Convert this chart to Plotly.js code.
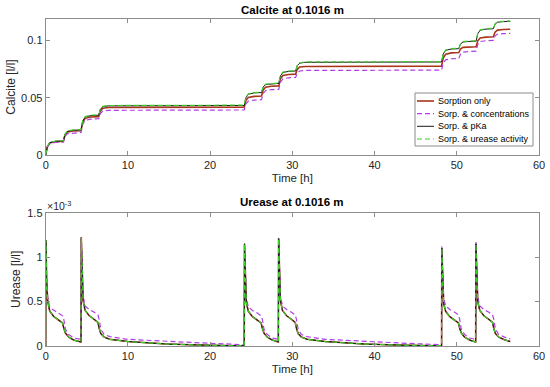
<!DOCTYPE html>
<html>
<head>
<meta charset="utf-8">
<script src="https://cdn.plot.ly/plotly-3.0.1.min.js"></script>
<style>html,body{margin:0;padding:0;background:#fff;}#chart{width:550px;height:387px;}</style>
</head>
<body>
<div id="chart"></div>
<script>
// ---------- Calcite data ----------
const timeCa = [
  0, 0.2, 0.5, 1.2,
  2.15, 2.35, 2.65, 3.35,
  4.3, 4.5, 4.8, 5.5,
  6.45, 6.65, 6.95, 7.65,
  24.15, 24.35, 24.65, 25.35,
  26.25, 26.45, 26.75, 27.45,
  28.35, 28.55, 28.85, 29.55,
  30.4, 30.6, 30.9, 31.6,
  48.15, 48.35, 48.65, 49.35,
  50.25, 50.45, 50.75, 51.45,
  52.35, 52.55, 52.85, 53.55,
  54.45, 54.65, 54.95, 55.65,
  56.5
];
const calciteSorption = [
  0, 0.0072, 0.0106, 0.0117,
  0.0120, 0.0175, 0.0201, 0.0209,
  0.0212, 0.0286, 0.0320, 0.0332,
  0.0335, 0.0385, 0.0408, 0.0415,
  0.0418, 0.0476, 0.0503, 0.0512,
  0.0515, 0.0568, 0.0592, 0.0600,
  0.0603, 0.0665, 0.0694, 0.0703,
  0.0706, 0.0748, 0.0768, 0.0773,
  0.0776, 0.0847, 0.0880, 0.0891,
  0.0894, 0.0925, 0.0939, 0.0942,
  0.0945, 0.0997, 0.1022, 0.1029,
  0.1032, 0.1072, 0.1090, 0.1095,
  0.1098
];
const calciteConc = [
  0, 0.0067, 0.0099, 0.0109,
  0.0112, 0.0162, 0.0186, 0.0193,
  0.0196, 0.0268, 0.0302, 0.0313,
  0.0316, 0.0362, 0.0384, 0.0390,
  0.0393, 0.0446, 0.0471, 0.0479,
  0.0482, 0.0537, 0.0562, 0.0570,
  0.0573, 0.0635, 0.0665, 0.0674,
  0.0677, 0.0715, 0.0733, 0.0738,
  0.0741, 0.0802, 0.0831, 0.0840,
  0.0843, 0.0881, 0.0898, 0.0903,
  0.0906, 0.0963, 0.0990, 0.0998,
  0.1001, 0.1038, 0.1055, 0.1059,
  0.1062
];
const calcitePka = [
  0, 0.0073, 0.0108, 0.0120,
  0.0123, 0.0180, 0.0207, 0.0216,
  0.0219, 0.0296, 0.0332, 0.0344,
  0.0347, 0.0398, 0.0422, 0.0429,
  0.0432, 0.0500, 0.0531, 0.0542,
  0.0545, 0.0593, 0.0615, 0.0622,
  0.0625, 0.0690, 0.0720, 0.0730,
  0.0733, 0.0780, 0.0802, 0.0809,
  0.0812, 0.0882, 0.0914, 0.0925,
  0.0928, 0.0968, 0.0986, 0.0991,
  0.0994, 0.1059, 0.1089, 0.1099,
  0.1102, 0.1141, 0.1159, 0.1164,
  0.1167
];
const calciteUrease = [
  0, 0.0075, 0.0110, 0.0122,
  0.0125, 0.0183, 0.0210, 0.0219,
  0.0222, 0.0299, 0.0335, 0.0347,
  0.0350, 0.0401, 0.0425, 0.0432,
  0.0435, 0.0503, 0.0534, 0.0545,
  0.0548, 0.0596, 0.0618, 0.0625,
  0.0628, 0.0693, 0.0723, 0.0733,
  0.0736, 0.0783, 0.0805, 0.0812,
  0.0815, 0.0885, 0.0917, 0.0928,
  0.0931, 0.0971, 0.0989, 0.0994,
  0.0997, 0.1062, 0.1092, 0.1102,
  0.1105, 0.1144, 0.1162, 0.1167,
  0.1170
];

// ---------- Urease data (values in units of 1e-3) ----------
const timeUr = [
  0, 0.03, 0.12, 0.25, 0.5, 1.0, 1.6, 2.05, 2.2, 2.4, 2.8, 3.4, 4.28,
  4.3, 4.33, 4.42, 4.55, 4.8, 5.3, 5.9, 6.35, 6.5, 6.7, 7.1, 7.8, 10, 14.7, 20, 24.13,
  24.15, 24.18, 24.27, 24.4, 24.65, 25.15, 25.75, 26.2, 26.35, 26.55, 26.95, 27.55, 28.28,
  28.3, 28.33, 28.42, 28.55, 28.8, 29.3, 29.9, 30.35, 30.5, 30.7, 31.1, 31.8, 34, 38.7, 44, 48.13,
  48.15, 48.18, 48.27, 48.4, 48.65, 49.15, 49.75, 50.2, 50.35, 50.55, 50.95, 51.55, 52.28,
  52.3, 52.33, 52.42, 52.55, 52.8, 53.3, 53.9, 54.35, 54.5, 54.7, 55.1, 55.8, 56.5
];
const ureaseSorption_e3 = [
  0, 1.19, 0.72, 0.50, 0.39, 0.33, 0.29, 0.26, 0.20, 0.145, 0.10, 0.067, 0.045,
  0.045, 1.22, 0.74, 0.51, 0.40, 0.34, 0.30, 0.265, 0.20, 0.14, 0.10, 0.075, 0.05, 0.022, 0.008, 0.003,
  0.003, 1.15, 0.70, 0.49, 0.39, 0.33, 0.29, 0.26, 0.20, 0.145, 0.10, 0.067, 0.045,
  0.045, 1.21, 0.74, 0.51, 0.40, 0.34, 0.30, 0.265, 0.20, 0.14, 0.10, 0.075, 0.05, 0.022, 0.008, 0.003,
  0.003, 1.10, 0.68, 0.48, 0.39, 0.33, 0.29, 0.26, 0.20, 0.145, 0.10, 0.067, 0.045,
  0.045, 1.15, 0.70, 0.50, 0.40, 0.34, 0.30, 0.265, 0.20, 0.14, 0.10, 0.07, 0.05
];
const ureaseConc_e3 = [
  0, 1.19, 0.75, 0.55, 0.43, 0.40, 0.37, 0.34, 0.30, 0.19, 0.13, 0.09, 0.075,
  0.075, 1.22, 0.77, 0.56, 0.45, 0.41, 0.38, 0.35, 0.30, 0.19, 0.13, 0.105, 0.075, 0.05, 0.03, 0.015,
  0.015, 1.15, 0.73, 0.54, 0.44, 0.40, 0.37, 0.34, 0.30, 0.19, 0.13, 0.09, 0.075,
  0.075, 1.21, 0.77, 0.56, 0.45, 0.41, 0.38, 0.35, 0.30, 0.19, 0.13, 0.105, 0.075, 0.05, 0.03, 0.015,
  0.015, 1.12, 0.72, 0.54, 0.45, 0.41, 0.38, 0.35, 0.30, 0.19, 0.13, 0.09, 0.075,
  0.075, 1.17, 0.74, 0.55, 0.45, 0.41, 0.38, 0.35, 0.30, 0.19, 0.13, 0.10, 0.08
];
const ureasePka_e3 = [
  0, 1.19, 0.72, 0.50, 0.39, 0.33, 0.29, 0.26, 0.20, 0.145, 0.10, 0.067, 0.045,
  0.045, 1.22, 0.74, 0.51, 0.40, 0.34, 0.30, 0.265, 0.20, 0.14, 0.10, 0.075, 0.05, 0.022, 0.008, 0.003,
  0.003, 1.15, 0.70, 0.49, 0.39, 0.33, 0.29, 0.26, 0.20, 0.145, 0.10, 0.067, 0.045,
  0.045, 1.21, 0.74, 0.51, 0.40, 0.34, 0.30, 0.265, 0.20, 0.14, 0.10, 0.075, 0.05, 0.022, 0.008, 0.003,
  0.003, 1.10, 0.68, 0.48, 0.39, 0.33, 0.29, 0.26, 0.20, 0.145, 0.10, 0.067, 0.045,
  0.045, 1.15, 0.70, 0.50, 0.40, 0.34, 0.30, 0.265, 0.20, 0.14, 0.10, 0.07, 0.05
];
const ureaseUrease_e3 = [
  0, 1.19, 0.72, 0.50, 0.39, 0.33, 0.29, 0.26, 0.20, 0.145, 0.10, 0.067, 0.045,
  0.045, 1.22, 0.74, 0.51, 0.40, 0.34, 0.30, 0.265, 0.20, 0.14, 0.10, 0.075, 0.05, 0.022, 0.008, 0.003,
  0.003, 1.15, 0.70, 0.49, 0.39, 0.33, 0.29, 0.26, 0.20, 0.145, 0.10, 0.067, 0.045,
  0.045, 1.21, 0.74, 0.51, 0.40, 0.34, 0.30, 0.265, 0.20, 0.14, 0.10, 0.075, 0.05, 0.022, 0.008, 0.003,
  0.003, 1.10, 0.68, 0.48, 0.39, 0.33, 0.29, 0.26, 0.20, 0.145, 0.10, 0.067, 0.045,
  0.045, 1.15, 0.70, 0.50, 0.40, 0.34, 0.30, 0.265, 0.20, 0.14, 0.10, 0.07, 0.05
];

const seriesNames = ['Sorption only', 'Sorp. & concentrations', 'Sorp. & pKa', 'Sorp. & urease activity'];
const xTicks = [0, 10, 20, 30, 40, 50, 60];
const caTicks = [0, 0.05, 0.1];
const caTickText = ['0', '0.05', '0.1'];
const urTicks = [0, 0.0005, 0.001, 0.0015];
const urTickText = ['0', '0.5', '1', '1.5'];

const styles = [
  {color: '#a8351c', width: 1.6, dash: 'solid'},
  {color: '#b03ee8', width: 1.2, dash: '5px,3px'},
  {color: '#1a1a1a', width: 1.0, dash: 'solid'},
  {color: '#3fcc2a', width: 1.2, dash: '5px,3px'}
];
const caSeries = [calciteSorption, calciteConc, calcitePka, calciteUrease];
const urSeries = [ureaseSorption_e3, ureaseConc_e3, ureasePka_e3, ureaseUrease_e3];

const traces = [];
caSeries.forEach((ys, i) => {
  traces.push({x: timeCa, y: ys, type: 'scatter', mode: 'lines', name: seriesNames[i],
    line: {color: styles[i].color, width: styles[i].width, dash: styles[i].dash},
    xaxis: 'x', yaxis: 'y', showlegend: false});
});
urSeries.forEach((ys, i) => {
  traces.push({x: timeUr, y: ys.map(v => v * 1e-3), type: 'scatter', mode: 'lines', name: seriesNames[i],
    line: {color: styles[i].color, width: styles[i].width, dash: styles[i].dash},
    xaxis: 'x2', yaxis: 'y2', showlegend: false});
});

const font = 'Liberation Sans, Arial, Helvetica, sans-serif';
const axisCommon = {
  showline: true, mirror: 'allticks', linecolor: '#8c8c8c', linewidth: 1,
  ticks: 'inside', ticklen: 4, tickcolor: '#8c8c8c', tickwidth: 1,
  showgrid: false, zeroline: false,
  tickfont: {family: font, size: 11, color: '#262626'}
};
const xDom = [45.7 / 550, 539 / 550];
const px = v => v / 550;
const py = v => (387 - v) / 387;

// custom legend (box, line samples, labels) in paper coordinates
const legBox = {x0: 415, x1: 533, y0: 93, y1: 146};
const legRows = [101, 113.7, 126.3, 139];
const shapes = [{type: 'rect', xref: 'paper', yref: 'paper',
  x0: px(legBox.x0), x1: px(legBox.x1), y0: py(legBox.y1), y1: py(legBox.y0),
  fillcolor: '#fff', line: {color: '#8c8c8c', width: 1}, layer: 'above'}];
const annotations = [
  {text: '<b>Calcite at 0.1016 m</b>', xref: 'paper', yref: 'paper', x: px(292), y: py(10),
   xanchor: 'center', yanchor: 'middle', showarrow: false, font: {family: font, size: 11.5, color: '#000'}},
  {text: '<b>Urease at 0.1016 m</b>', xref: 'paper', yref: 'paper', x: px(292), y: py(202),
   xanchor: 'center', yanchor: 'middle', showarrow: false, font: {family: font, size: 11.5, color: '#000'}},
  {text: '×10<sup>-3</sup>', xref: 'paper', yref: 'paper', x: px(45), y: py(205),
   xanchor: 'left', yanchor: 'middle', showarrow: false, font: {family: font, size: 10.5, color: '#262626'}}
];
seriesNames.forEach((name, i) => {
  shapes.push({type: 'line', xref: 'paper', yref: 'paper',
    x0: px(417), x1: px(434), y0: py(legRows[i]), y1: py(legRows[i]),
    line: {color: styles[i].color, width: styles[i].width, dash: styles[i].dash}, layer: 'above'});
  annotations.push({text: name, xref: 'paper', yref: 'paper', x: px(435.5), y: py(legRows[i]),
    xanchor: 'left', yanchor: 'middle', showarrow: false,
    font: {family: font, size: 9, color: '#000'}});
});

const layout = {
  width: 550, height: 387,
  margin: {l: 0, r: 0, t: 0, b: 0},
  paper_bgcolor: '#fff', plot_bgcolor: '#fff',
  font: {family: font, color: '#262626'},
  showlegend: false,
  xaxis: Object.assign({}, axisCommon, {
    domain: xDom, range: [0, 60], tickvals: xTicks, anchor: 'y',
    title: {text: 'Time [h]', font: {family: font, size: 11.5, color: '#262626'}, standoff: 3}
  }),
  yaxis: Object.assign({}, axisCommon, {
    domain: [py(155), py(19)], range: [0, 0.1187],
    tickvals: caTicks, ticktext: caTickText, anchor: 'x',
    title: {text: 'Calcite [l/l]', font: {family: font, size: 12, color: '#262626'}, standoff: 2}
  }),
  xaxis2: Object.assign({}, axisCommon, {
    domain: xDom, range: [0, 60], tickvals: xTicks, anchor: 'y2',
    title: {text: 'Time [h]', font: {family: font, size: 11.5, color: '#262626'}, standoff: 3}
  }),
  yaxis2: Object.assign({}, axisCommon, {
    domain: [py(346), py(212.7)], range: [0, 0.0015],
    tickvals: urTicks, ticktext: urTickText, anchor: 'x2',
    title: {text: 'Urease [l/l]', font: {family: font, size: 12, color: '#262626'}, standoff: 3}
  }),
  shapes: shapes,
  annotations: annotations
};

Plotly.newPlot('chart', traces, layout, {displayModeBar: false, staticPlot: true});
</script>
</body>
</html>
